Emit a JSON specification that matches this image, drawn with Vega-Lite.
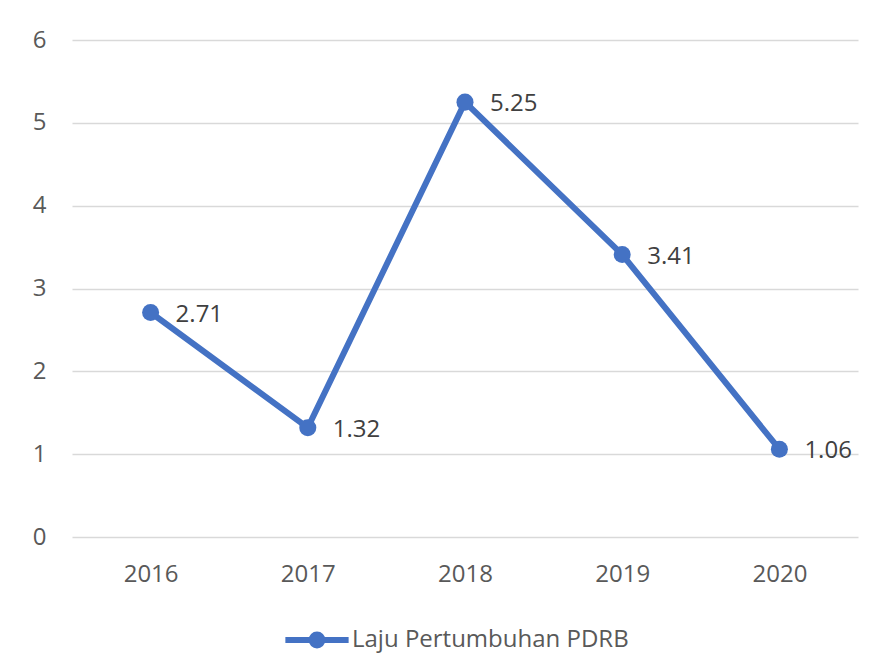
{
  "$schema": "https://vega.github.io/schema/vega-lite/v6.json",
  "width": 786,
  "height": 497,
  "autosize": "none",
  "padding": {"left": 72, "top": 40, "right": 32, "bottom": 130},
  "background": "white",
  "config": {
    "view": {"stroke": null},
    "font": "Open Sans"
  },
  "data": {
    "values": [
      {"tahun": "2016", "nilai": 2.71, "seri": "Laju Pertumbuhan PDRB"},
      {"tahun": "2017", "nilai": 1.32, "seri": "Laju Pertumbuhan PDRB"},
      {"tahun": "2018", "nilai": 5.25, "seri": "Laju Pertumbuhan PDRB"},
      {"tahun": "2019", "nilai": 3.41, "seri": "Laju Pertumbuhan PDRB"},
      {"tahun": "2020", "nilai": 1.06, "seri": "Laju Pertumbuhan PDRB"}
    ]
  },
  "encoding": {
    "x": {
      "field": "tahun", "type": "ordinal",
      "scale": {"type": "point", "padding": 0.5},
      "axis": {"title": null, "labelAngle": 0, "domain": false, "ticks": false, "grid": false,
               "labelFontSize": 24, "labelColor": "#595959", "labelPadding": 25, "labelFont": "Open Sans"}
    },
    "y": {
      "field": "nilai", "type": "quantitative",
      "scale": {"domain": [0, 6], "nice": false},
      "axis": {"title": null, "values": [0, 1, 2, 3, 4, 5, 6], "domain": false, "ticks": false,
               "grid": true, "gridColor": "#d9d9d9", "gridWidth": 1.5,
               "labelFontSize": 24, "labelColor": "#595959", "labelPadding": 26, "labelFont": "Open Sans"}
    }
  },
  "layer": [
    {
      "mark": {"type": "line", "strokeWidth": 6, "color": "#4472C4", "strokeCap": "round"},
      "encoding": {
        "color": {
          "field": "seri", "type": "nominal",
          "scale": {"range": ["#4472C4"]},
          "legend": {
            "title": null, "orient": "none", "legendX": 210, "legendY": 565,
            "symbolType": "M-1,0L1,0M-0.17,0A0.17,0.17 0 1,1 0.17,0A0.17,0.17 0 1,1 -0.17,0",
            "symbolSize": 4000, "symbolStrokeWidth": 6, "symbolFillColor": "#4472C4",
            "symbolStrokeColor": "#4472C4", "labelLimit": 0,
            "labelFontSize": 24, "labelColor": "#595959", "labelFont": "Open Sans", "labelOffset": 0
          }
        }
      }
    },
    {
      "mark": {"type": "point", "filled": true, "size": 290, "color": "#4472C4", "opacity": 1}
    },
    {
      "mark": {"type": "text", "align": "left", "baseline": "middle", "dx": 25, "dy": 2,
               "fontSize": 24, "color": "#404040", "font": "Open Sans"},
      "encoding": {"text": {"field": "nilai", "type": "quantitative", "format": ".2f"}}
    }
  ]
}
